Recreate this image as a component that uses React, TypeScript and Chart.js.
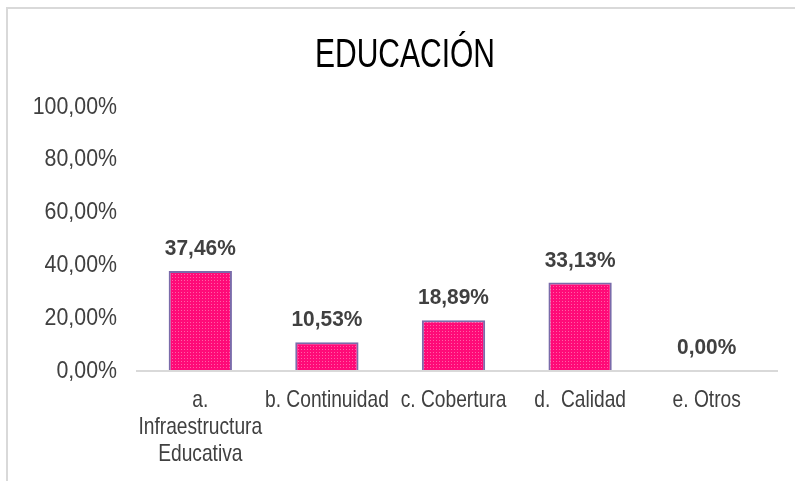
import React, { useEffect, useRef } from "react";
import { Chart, registerables } from "chart.js";

Chart.register(...registerables);

const categories: string[][] = [
  ["a.", "Infraestructura", "Educativa"],
  ["b. Continuidad"],
  ["c. Cobertura"],
  ["d.  Calidad"],
  ["e. Otros"],
];
const values = [0.3746, 0.1053, 0.1889, 0.3313, 0.0];
const yTicks = [0, 0.2, 0.4, 0.6, 0.8, 1.0];
const chartTitle = "EDUCACIÓN";

const FONT = "'Liberation Sans', Arial, sans-serif";

const fmt = (v: number) => (v * 100).toFixed(2).replace(".", ",") + "%";

function makePattern(): CanvasPattern | string {
  const c = document.createElement("canvas");
  c.width = 3;
  c.height = 3;
  const ctx = c.getContext("2d");
  if (!ctx) return "#FF0F7B";
  ctx.fillStyle = "#FF0A78";
  ctx.fillRect(0, 0, 3, 3);
  ctx.fillStyle = "#FF5FA5";
  ctx.fillRect(1, 1, 1, 1);
  const p = ctx.createPattern(c, "repeat");
  return p || "#FF0F7B";
}

function narrowText(
  ctx: CanvasRenderingContext2D,
  text: string,
  x: number,
  y: number,
  font: string,
  sx: number,
  align: CanvasTextAlign,
  baseline: CanvasTextBaseline,
  color: string
) {
  ctx.save();
  ctx.translate(x, y);
  ctx.scale(sx, 1);
  ctx.font = font;
  ctx.fillStyle = color;
  ctx.textAlign = align;
  ctx.textBaseline = baseline;
  ctx.fillText(text, 0, 0);
  ctx.restore();
}

const textPlugin = {
  id: "customText",
  afterDraw(chart: any) {
    const ctx: CanvasRenderingContext2D = chart.ctx;
    const xs = chart.scales.x;
    const ys = chart.scales.y;
    // title
    narrowText(ctx, chartTitle, 405, 67, `normal 40px ${FONT}`, 0.75, "center", "alphabetic", "#000000");
    // y ticks
    yTicks.forEach((v) => {
      narrowText(ctx, fmt(v), 117, ys.getPixelForValue(v) + 1, `normal 24px ${FONT}`, 0.89, "right", "middle", "#404040");
    });
    // axis line
    ctx.save();
    ctx.strokeStyle = "#D9D9D9";
    ctx.lineWidth = 2;
    ctx.beginPath();
    ctx.moveTo(136, ys.getPixelForValue(0) + 1);
    ctx.lineTo(778, ys.getPixelForValue(0) + 1);
    ctx.stroke();
    ctx.restore();
    // x labels
    categories.forEach((lines, i) => {
      const cx = xs.getPixelForTick(i);
      lines.forEach((ln, j) => {
        narrowText(ctx, ln, cx, 400 + j * 27, `normal 24px ${FONT}`, 0.8, "center", "middle", "#404040");
      });
    });
    // value labels
    const meta = chart.getDatasetMeta(0);
    meta.data.forEach((bar: any, i: number) => {
      narrowText(ctx, fmt(values[i]), bar.x, bar.y - 16, `bold 22px ${FONT}`, 0.95, "center", "alphabetic", "#404040");
    });
  },
};

export default function App() {
  const ref = useRef<HTMLCanvasElement>(null);
  useEffect(() => {
    if (!ref.current) return;
    const chart = new Chart(ref.current, {
      type: "bar",
      data: {
        labels: categories.map((c) => c.join(" ")),
        datasets: [
          {
            data: values,
            backgroundColor: makePattern() as any,
            borderColor: "#7A6BAA",
            borderWidth: 2,
            barPercentage: 0.5,
            categoryPercentage: 1,
          },
        ],
      },
      options: {
        animation: false,
        responsive: false,
        maintainAspectRatio: false,
        layout: { padding: { top: 106, right: 25, bottom: 0, left: 0 } },
        plugins: {
          legend: { display: false },
          tooltip: { enabled: false },
          title: { display: false },
        },
        scales: {
          x: {
            grid: { display: false, drawTicks: false },
            border: { display: false },
            ticks: { display: false },
            afterFit: (s: any) => {
              s.height = 111;
            },
          },
          y: {
            min: 0,
            max: 1,
            afterBuildTicks: (s: any) => {
              s.ticks = yTicks.map((v) => ({ value: v }));
            },
            grid: { display: false, drawTicks: false },
            border: { display: false },
            ticks: { display: false },
            afterFit: (s: any) => {
              s.width = 137;
            },
          },
        },
      },
      plugins: [textPlugin],
    });
    return () => chart.destroy();
  }, []);
  return (
    <div style={{ position: "absolute", left: 0, top: 0, width: 795, height: 481, background: "#fff", overflow: "hidden" }}>
      <div
        style={{
          position: "absolute",
          left: 6,
          top: 7,
          width: 820,
          height: 520,
          borderLeft: "2px solid #D9D9D9",
          borderTop: "2px solid #D9D9D9",
        }}
      />
      <canvas ref={ref} width={795} height={481} style={{ position: "absolute", left: 0, top: 0 }} />
    </div>
  );
}
